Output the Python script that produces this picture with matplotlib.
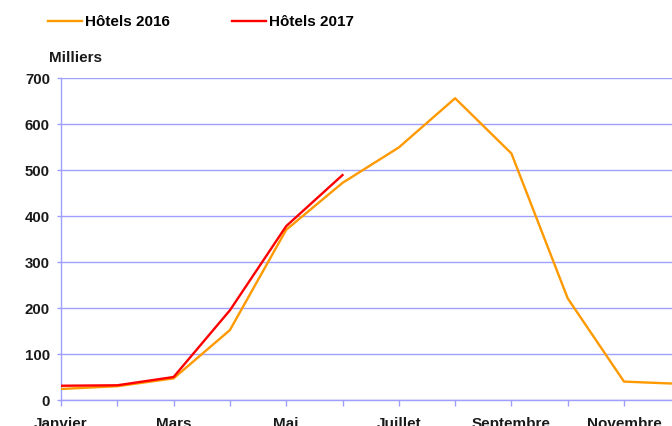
import matplotlib
matplotlib.use("Agg")
import matplotlib.pyplot as plt

months = ["Janvier", "Février", "Mars", "Avril", "Mai", "Juin", "Juillet",
          "Août", "Septembre", "Octobre", "Novembre", "Décembre"]
hotels_2016 = [24, 30, 47, 152, 370, 472, 549, 656, 536, 221, 40, 35]
hotels_2017 = [31, 32, 50, 195, 378, 489]
yticks = [0, 100, 200, 300, 400, 500, 600, 700]

plt.rcParams['font.family'] = ['Liberation Sans', 'DejaVu Sans']
plt.rcParams['font.weight'] = 'bold'

W, H = 672, 426
fig = plt.figure(figsize=(W / 100, H / 100), dpi=100)
x0, y0, y1 = 61, 400, 78
step = 56.3
ax = fig.add_axes([x0 / W, (H - y0) / H, step * 11 / W, (y0 - y1) / H])

axis_col = '#9f9fff'
txt_col = '#1a1a1a'
x = list(range(len(months)))
ax.plot(x, hotels_2016, color='#ff9900', lw=1.7, label='Hôtels 2016', zorder=3)
ax.plot(x[:len(hotels_2017)], hotels_2017, color='#ff0000', lw=1.7,
        label='Hôtels 2017', zorder=4)

ax.set_xlim(0, 11)
ax.set_ylim(0, 700)
ax.set_yticks(yticks)
ax.set_yticklabels([str(v) for v in yticks], fontsize=10.8, fontweight='bold',
                   color=txt_col)
ax.set_xticks(x)
ax.set_xticklabels([m if i % 2 == 0 else '' for i, m in enumerate(months)],
                   fontsize=11, fontweight='bold', color=txt_col)
ax.tick_params(axis='y', length=3, width=1, color=axis_col, pad=5)
ax.tick_params(axis='x', length=4, width=1, color=axis_col, pad=8)
ax.grid(axis='y', color=axis_col, lw=1)
ax.set_axisbelow(True)
for s in ['top', 'right']:
    ax.spines[s].set_visible(False)
for s in ['left', 'bottom']:
    ax.spines[s].set_color(axis_col)
    ax.spines[s].set_linewidth(1)
for lab in ax.get_xticklabels():
    lab.set_clip_on(False)

fig.text(49 / W, 1 - 58 / H, 'Milliers', fontsize=11, fontweight='bold',
         color=txt_col, va='center', ha='left')

fig.legend(loc='center left', bbox_to_anchor=(48 / W, 1 - 22 / H), ncol=2,
           frameon=False, handlelength=2.2, handletextpad=0.22,
           columnspacing=4.1, borderpad=0, borderaxespad=0,
           prop={'weight': 'bold', 'size': 11})

fig.savefig('out.png', dpi=100)
